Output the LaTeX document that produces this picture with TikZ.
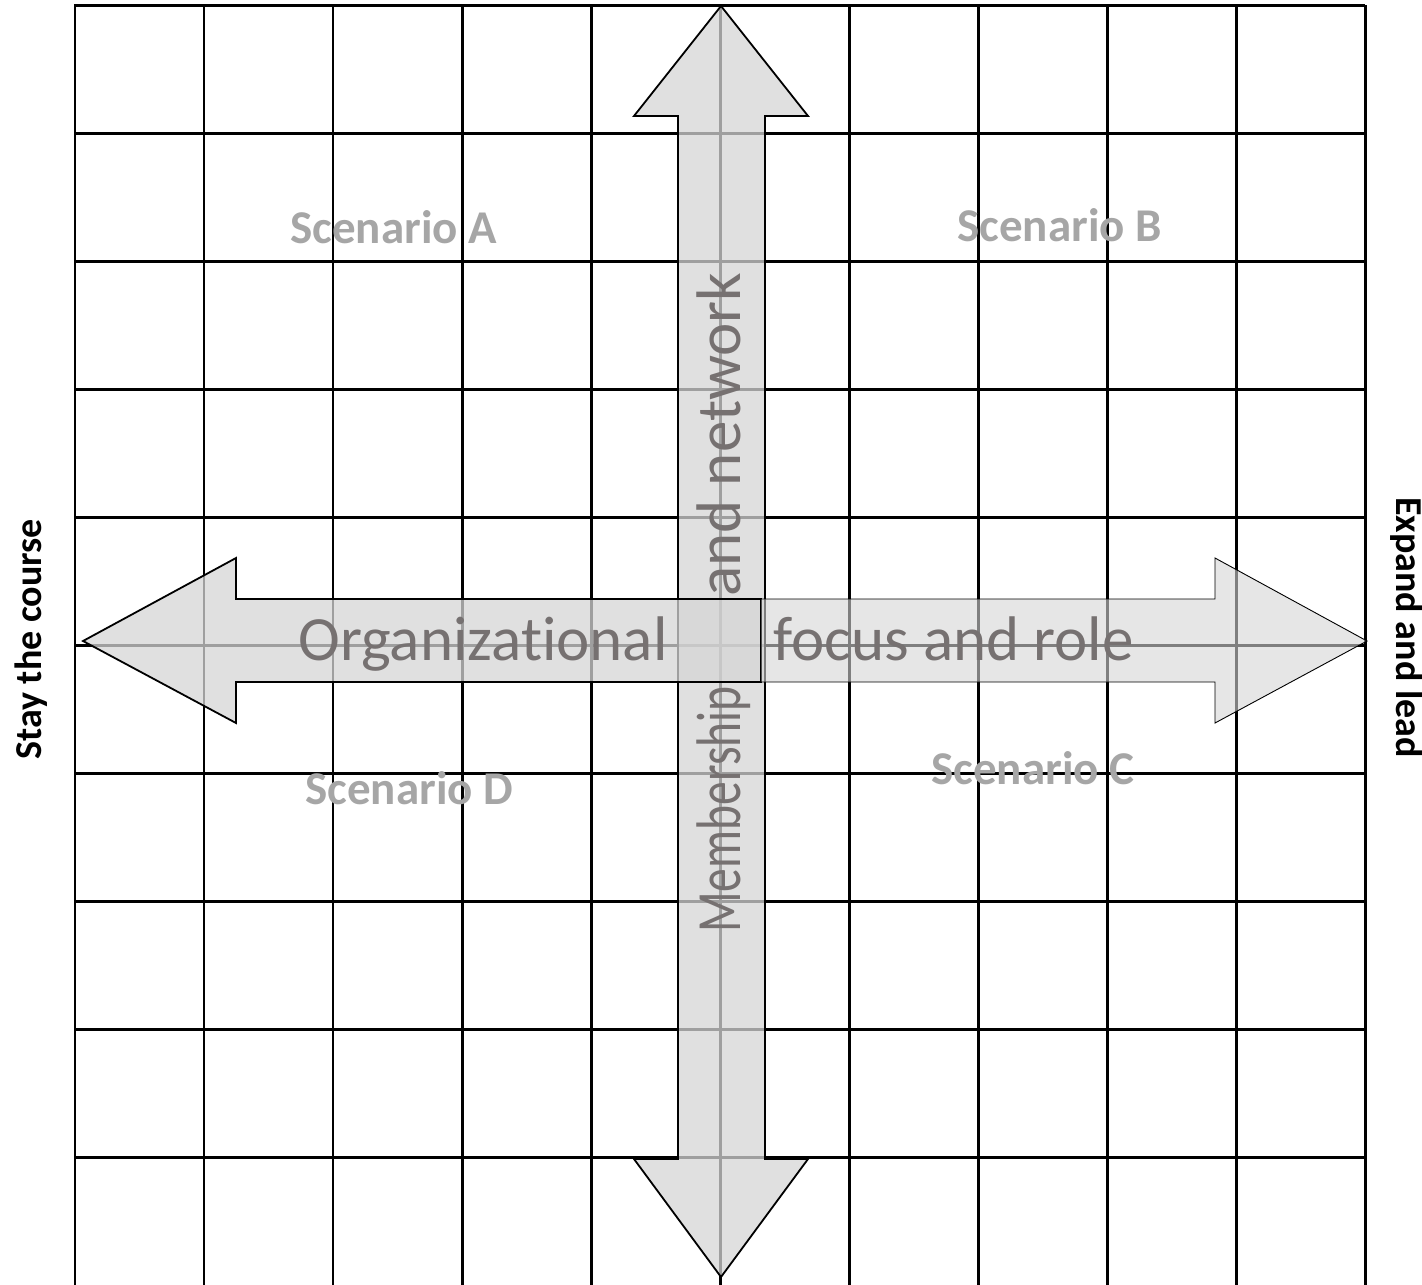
\documentclass[tikz,border=0pt]{standalone}
\usepackage{fontspec}
\usepackage{graphicx}
\setmainfont{Carlito}[Ligatures=NoCommon]
\begin{document}
\begin{tikzpicture}[x=0.5pt,y=-0.5pt]
\definecolor{arrowfill}{RGB}{213,213,213}
\definecolor{axisink}{RGB}{118,113,113}
\definecolor{scenink}{RGB}{166,166,166}
\tikzset{
  gridline/.style={line width=1.3pt, black},
  arrowbody/.style={fill=arrowfill, fill opacity=0.75, draw=black, line width=0.9pt, line join=miter},
  arrowlight/.style={fill=arrowfill, fill opacity=0.6, draw=black, line width=0.45pt, line join=miter},
  axistext/.style={inner sep=0pt, text=axisink, font=\fontsize{31.5pt}{37pt}\selectfont},
  scenario/.style={inner sep=0pt, text=scenink, font=\bfseries\fontsize{23.5pt}{28pt}\selectfont},
  sidetext/.style={inner sep=0pt, text=black, font=\bfseries\fontsize{19pt}{23pt}\selectfont}
}
\useasboundingbox (0,0) rectangle (1422,1284);

% background grid: 10 columns, rows running past the lower edge
\begin{scope}
  \clip (0,0) rectangle (1422,1284);
  \foreach \i in {0,...,10}
    \draw[gridline] ({75+129.07*\i},5.5) -- ({75+129.07*\i},1300);
  \foreach \j in {0,...,9}
    \draw[gridline] (74.35,{5.5+128*\j}) -- (1365.05,{5.5+128*\j});
\end{scope}

% vertical double arrow
\draw[arrowbody] (721,6) -- (808,116) -- (765,116) -- (765,1159) -- (808,1159)
  -- (721,1277) -- (634,1159) -- (678,1159) -- (678,116) -- (634,116) -- cycle;

% condensed lower half of the vertical label
\node[axistext, rotate=90, anchor=base east] (memb) at (740,686)
  {\scalebox{0.755}[1]{Membership}};
\node[axistext, rotate=90, anchor=base west] (netw) at (740,597) {and network};

% horizontal double arrow, left half then right half
\draw[arrowbody] (83,641) -- (236,558) -- (236,599) -- (761,599) -- (761,682)
  -- (236,682) -- (236,723) -- cycle;
\draw[arrowlight] (761,599) -- (1215,599) -- (1215,558) -- (1367,641)
  -- (1215,723) -- (1215,682) -- (761,682) -- cycle;

\node[axistext, anchor=base east] (orgl) at (668,660) {Organizational};
\node[axistext, anchor=base west] (orgr) at (773,660) {focus and role};

% quadrant labels
\node[scenario, anchor=base west] (sa) at (290,243) {Scenario A};
\node[scenario, anchor=base west] (sb) at (957,241) {Scenario B};
\node[scenario, anchor=base west] (sc) at (931,784) {Scenario C};
\node[scenario, anchor=base west] (sd) at (305,804) {Scenario D};

% axis end labels
\node[sidetext, rotate=90, anchor=base west] (stay) at (41,760) {Stay the course};
\node[sidetext, rotate=-90, anchor=base west] (expand) at (1396,497) {Expand and lead};
\end{tikzpicture}
\end{document}
